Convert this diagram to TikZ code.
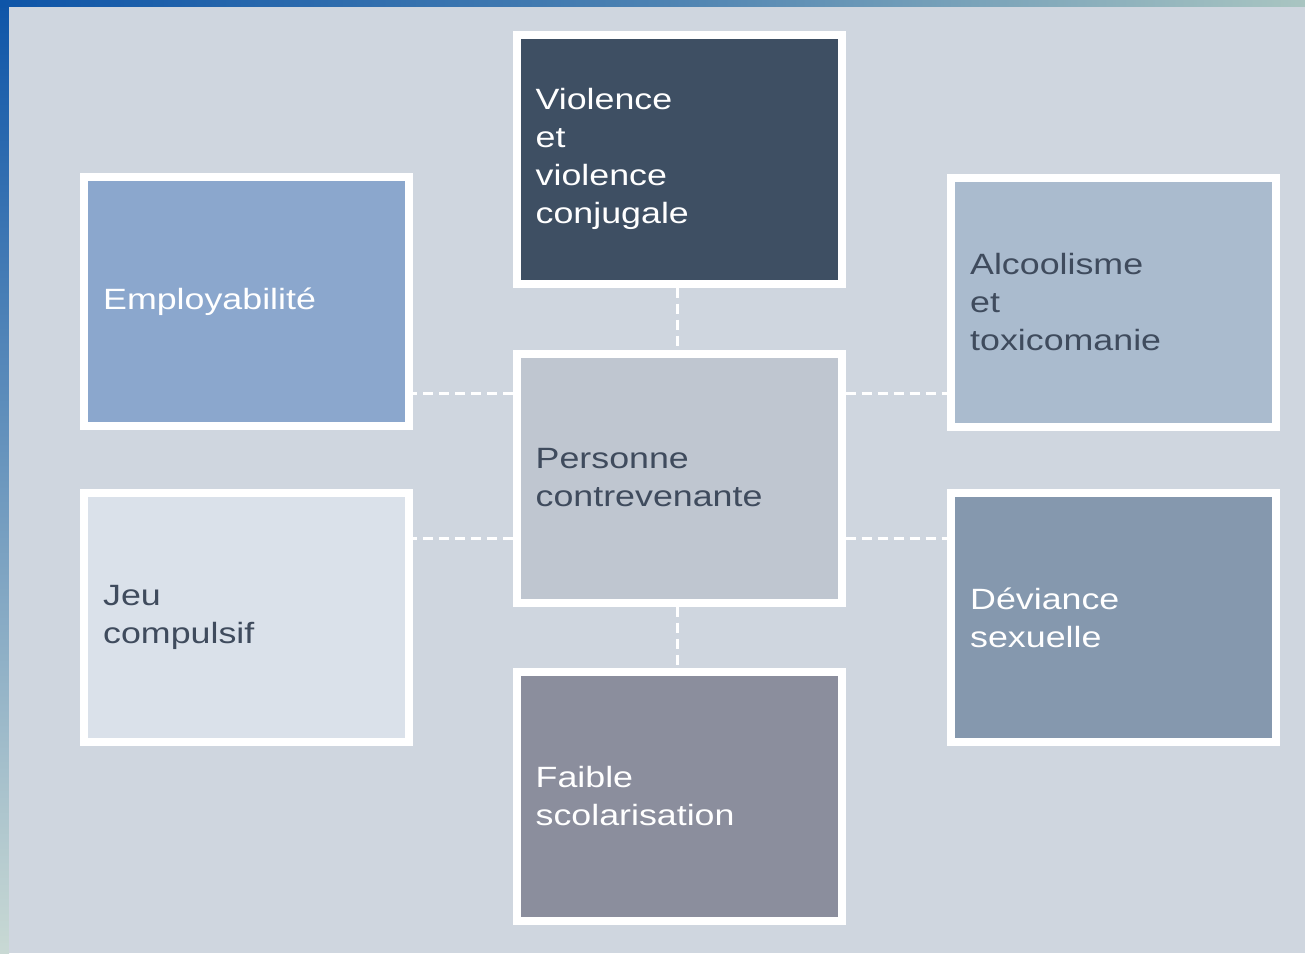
\documentclass[tikz,border=0pt]{standalone}
\usepackage{fontspec}
\newfontfamily\boxfont{Liberation Sans}[FakeStretch=1.22]
\definecolor{panel}{HTML}{CFD6DF}
\definecolor{cEmp}{HTML}{8BA7CD}
\definecolor{cVio}{HTML}{3E4F63}
\definecolor{cAlc}{HTML}{AABBCE}
\definecolor{cCtr}{HTML}{BFC6D0}
\definecolor{cJeu}{HTML}{DAE1EA}
\definecolor{cDev}{HTML}{8598AE}
\definecolor{cFai}{HTML}{8B8E9D}
\definecolor{darktext}{HTML}{3F4B5D}
\definecolor{bgblue}{HTML}{0E55A8}
\definecolor{bgteal}{HTML}{A9C5C1}
\definecolor{bglight}{HTML}{C9D9D4}
\tikzset{
  box/.style={draw=white, line width=6pt, minimum width=243.75pt, minimum height=186.75pt,
    text width=215pt, align=left, inner sep=0pt,
    font=\boxfont\fontsize{22}{28.5}\selectfont},
  darkbox/.style={box, text=darktext},
  lightbox/.style={box, text=white},
  conn/.style={draw=white, line width=2.25pt, dash pattern=on 7.5pt off 4.5pt}
}
\begin{document}
\begin{tikzpicture}[x=0.75pt, y=-0.75pt]
% background
\useasboundingbox (0,0) rectangle (1305,953);
\shade[top color=bgblue, bottom color=bglight] (0,0) rectangle (9,953);
\shade[left color=bgblue, right color=bgteal, middle color=bgblue!60!bgteal] (0,0) rectangle (1305,7);
\fill[panel] (9,7) rectangle (1305,953);
% boxes
\node[lightbox, fill=cEmp] (emp) at (246.5,301.5) {Employabilité};
\node[darkbox, fill=cJeu] (jeu) at (246.5,617.5) {Jeu\\compulsif};
\node[lightbox, fill=cVio] (vio) at (679,159) {Violence\\et\\violence\\conjugale};
\node[darkbox, fill=cCtr] (ctr) at (679,478) {Personne\\contrevenante};
\node[lightbox, fill=cFai] (fai) at (679,796) {Faible\\scolarisation};
\node[darkbox, fill=cAlc] (alc) at (1113.5,302) {Alcoolisme\\et\\toxicomanie};
\node[lightbox, fill=cDev] (dev) at (1113.5,617.5) {Déviance\\sexuelle};
% connectors
\draw[conn] ([yshift=63.75pt]ctr.west) -- ([yshift=63.75pt]ctr.west -| emp.east);
\draw[conn] ([yshift=-45pt]ctr.west) -- ([yshift=-45pt]ctr.west -| jeu.east);
\draw[conn] ([yshift=63.75pt]ctr.east) -- ([yshift=63.75pt]ctr.east -| alc.west);
\draw[conn] ([yshift=-45pt]ctr.east) -- ([yshift=-45pt]ctr.east -| dev.west);
\draw[conn] ([xshift=-1.5pt]vio.south) -- ([xshift=-1.5pt]ctr.north);
\draw[conn] ([xshift=-1.5pt]ctr.south) -- ([xshift=-1.5pt]fai.north);
\end{tikzpicture}
\end{document}
